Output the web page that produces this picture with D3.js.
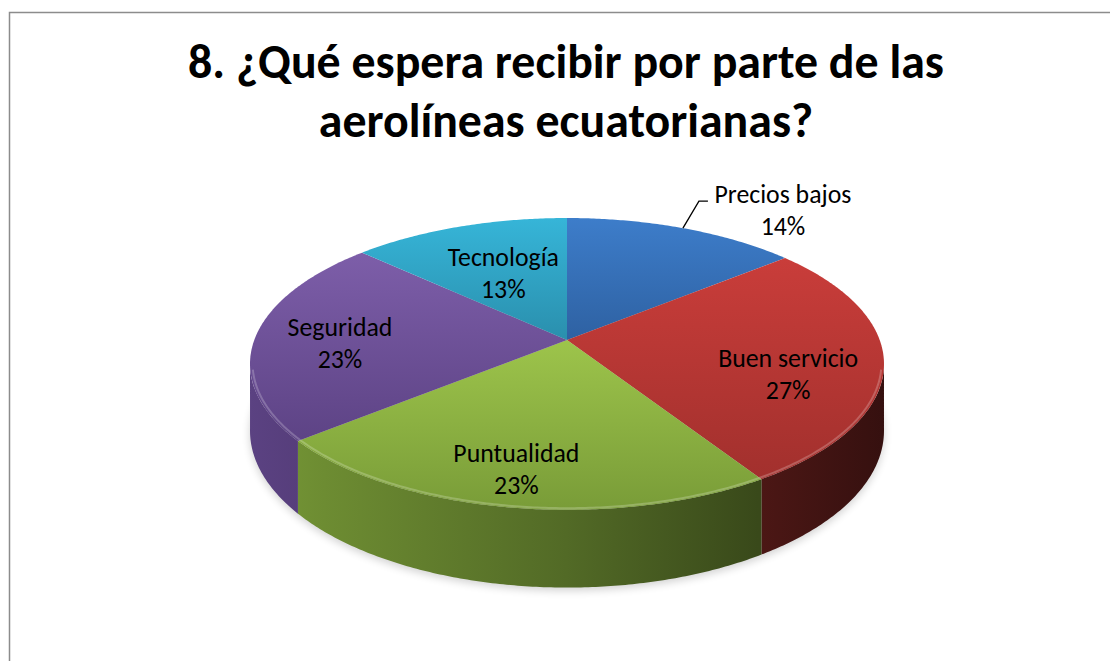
<!DOCTYPE html>
<html>
<head>
<meta charset="utf-8">
<script src="https://cdn.jsdelivr.net/npm/d3@7"></script>
<style>
  html, body { margin: 0; padding: 0; background: #ffffff; }
  svg { display: block; }
</style>
</head>
<body>
<svg id="chart" width="1110" height="661"></svg>
<script>
// ---- data ----
const categories = ["Precios bajos", "Buen servicio", "Puntualidad", "Seguridad", "Tecnología"];
const values = [14, 27, 23, 23, 13];
const percentLabels = ["14%", "27%", "23%", "23%", "13%"];
const titleLines = ["8. ¿Qué espera recibir por parte de las", "aerolíneas ecuatorianas?"];
const topLight = ["#3d7dca", "#c93d3a", "#9dc44b", "#7d5ea9", "#36b5d8"];
const topDark  = ["#2e61a2", "#a2302d", "#799c38", "#5d4385", "#2a8fad"];

// ---- layout ----
const W = 1110, H = 661;
const cx = 567, cy = 340;     // apex of the pie (screen)
const R = 312.7;              // projected radius factor
const T = 0.454;              // tilt factor
const P = 0.164;              // perspective factor
const TH = 65;                // thickness factor
const labelNudge = [[0, 0], [1, 20], [-12, 20], [-9, 8], [15, 17]];

function proj(a, r, depth) {
  const u = r * Math.sin(a), v = r * Math.cos(a);
  const den = 1 + P * v;
  return [cx + R * u / den, cy + (-R * T * v + depth * TH) / den];
}

const svg = d3.select("#chart");
const defs = svg.append("defs");

// border
svg.append("rect").attr("x", 9.5).attr("y", 12.5).attr("width", W + 20).attr("height", H + 20)
  .attr("fill", "#fff").attr("stroke", "#8c8c8c").attr("stroke-width", 1.5);

// title
const titleFont = "Carlito, Calibri, Lato, 'Open Sans', sans-serif";
const title = svg.append("g");
const tl = title.selectAll("text").data(titleLines).join("text")
  .attr("x", 566).attr("y", (d, i) => [78, 137][i])
  .attr("text-anchor", "middle")
  .attr("font-family", titleFont).attr("font-weight", "bold")
  .attr("font-size", 40).attr("fill", "#000").text(d => d);
// fit first line width to reference
{
  const w = tl.nodes()[0].getComputedTextLength();
  const fs = 40 * 756 / w;
  tl.attr("font-size", fs);
}

// pie
const pie = d3.pie().sort(null).value(d => d).startAngle(0).endAngle(2 * Math.PI);
const arcs = pie(values);
const line = d3.line();

function arcPts(a0, a1, r, depth) {
  const n = Math.max(2, Math.ceil((a1 - a0) / 0.01));
  const pts = [];
  for (let i = 0; i <= n; i++) pts.push(proj(a0 + (a1 - a0) * i / n, r, depth));
  return pts;
}

// shadow
const blur = defs.append("filter").attr("id", "shadowBlur").attr("x", "-20%").attr("y", "-20%").attr("width", "140%").attr("height", "140%");
blur.append("feGaussianBlur").attr("stdDeviation", 4);
svg.append("path")
  .attr("d", line(arcPts(0, 2 * Math.PI, 1.0, 1.0).map(p => [p[0], p[1] + 3])) + "Z")
  .attr("fill", "#000").attr("opacity", 0.18).attr("filter", "url(#shadowBlur)");

// side gradients (horizontal, darker to the right)
const xL = cx - R * 1.02, xR = cx + R * 1.02;
arcs.forEach((d, i) => {
  const g = defs.append("linearGradient").attr("id", "side" + i)
    .attr("gradientUnits", "userSpaceOnUse")
    .attr("x1", xL).attr("x2", xR).attr("y1", 0).attr("y2", 0);
  const base = d3.rgb(topDark[i]);
  const stops = [[0, 0.98], [0.12, 0.9], [0.5, 0.68], [0.8, 0.47], [1, 0.33]];
  stops.forEach(s => {
    g.append("stop").attr("offset", s[0])
      .attr("stop-color", d3.rgb(base.r * s[1], base.g * s[1], base.b * s[1]).formatHex());
  });
  const gt = defs.append("linearGradient").attr("id", "top" + i)
    .attr("x1", 0).attr("x2", 0).attr("y1", 0).attr("y2", 1);
  gt.append("stop").attr("offset", 0).attr("stop-color", topLight[i]);
  gt.append("stop").attr("offset", 1).attr("stop-color", topDark[i]);
});

// visible range of the side wall
const visA0 = Math.PI / 2 + Math.asin(P) - 0.01;
const visA1 = 3 * Math.PI / 2 - Math.asin(P) + 0.01;

const sides = svg.append("g");
arcs.forEach((d, i) => {
  const a0 = Math.max(d.startAngle, visA0), a1 = Math.min(d.endAngle, visA1);
  if (a1 <= a0) return;
  const topPts = arcPts(a0, a1, 1, 0);
  const botPts = arcPts(a0, a1, 1, 1).reverse();
  sides.append("path").attr("d", line(topPts.concat(botPts)) + "Z")
    .attr("fill", `url(#side${i})`);
});

// top faces
const tops = svg.append("g");
arcs.forEach((d, i) => {
  const pts = [proj(0, 0, 0)].concat(arcPts(d.startAngle, d.endAngle, 1, 0));
  tops.append("path").attr("d", line(pts) + "Z").attr("fill", `url(#top${i})`);
});

// bevel highlight along front rim
svg.append("path").attr("d", line(arcPts(visA0 + 0.05, visA1 - 0.05, 0.992, 0)))
  .attr("fill", "none").attr("stroke", "#ffffff").attr("stroke-opacity", 0.22).attr("stroke-width", 2);

// labels
const labelFont = "Carlito, Calibri, Lato, 'Open Sans', sans-serif";
const labels = svg.append("g").attr("font-family", labelFont).attr("fill", "#000");
let labelSize = 24;
{
  const t = labels.append("text").attr("font-size", 100).text("Buen servicio");
  labelSize = 100 * 140 / t.node().getComputedTextLength();
  t.remove();
}
arcs.forEach((d, i) => {
  const mid = (d.startAngle + d.endAngle) / 2;
  let cxl, cyl;
  if (i === 0) {
    const rim = proj(mid, 1, 0);
    const elbow = [rim[0] + 16, rim[1] - 27];
    const end = [elbow[0] + 9, elbow[1]];
    svg.append("path").attr("d", line([rim, elbow, end]))
      .attr("fill", "none").attr("stroke", "#000").attr("stroke-width", 1.3);
    cxl = rim[0] + 100; cyl = rim[1] - 17;
  } else {
    const p = proj(mid, 0.7, 0);
    cxl = p[0] + labelNudge[i][0]; cyl = p[1] + labelNudge[i][1];
  }
  const t = labels.append("text").attr("text-anchor", "middle").attr("font-size", labelSize);
  t.append("tspan").attr("x", cxl).attr("y", cyl - 8.5).text(categories[i]);
  t.append("tspan").attr("x", cxl).attr("y", cyl + 23.5).text(percentLabels[i]);
});
</script>
</body>
</html>
